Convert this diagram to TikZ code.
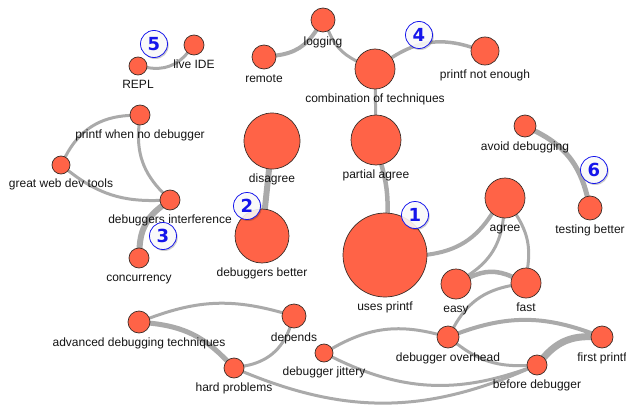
\documentclass[tikz,border=0pt]{standalone}
\usepackage{fontspec}
\setmainfont{Liberation Sans}
\newfontfamily\badgefont{DejaVu Sans}
\usetikzlibrary{shadows}
\pgfdeclarelayer{edges}
\pgfsetlayers{edges,main}
\definecolor{nodered}{RGB}{255,99,71}
\definecolor{nodeborder}{RGB}{60,45,40}
\definecolor{edgegray}{RGB}{170,170,170}
\definecolor{badgeblue}{RGB}{20,20,235}
\definecolor{txt}{RGB}{20,20,20}
\tikzset{
  pt/.style={circle, draw=nodeborder, line width=0.7pt, fill=nodered, inner sep=0pt, minimum size=#1*2pt},
  lbl/.style={font=\fontsize{12}{14}\selectfont, text=txt, inner sep=0pt, text height=8.8pt, text depth=2.5pt, label distance=4.5pt},
  con/.style={draw=edgegray, line width=#1pt, line cap=round},
  badge/.style={circle, draw=badgeblue, line width=0.8pt, fill=white, fill opacity=0.88, text opacity=1, inner sep=0pt, minimum size=27pt, text=badgeblue, font=\badgefont\bfseries\fontsize{18}{18}\selectfont, drop shadow={shadow xshift=1.2pt, shadow yshift=-1.5pt, fill=black, opacity=0.2}},
}
\begin{document}
\begin{tikzpicture}[x=1pt, y=-1pt]
\useasboundingbox (0,0) rectangle (626,404);
% nodes
\node[pt=9, label={[lbl]below:REPL}] (repl) at (138,66) {};
\node[pt=10, label={[lbl]below:live IDE}] (live) at (194,45) {};
\node[pt=12, label={[lbl]below:remote}] (remote) at (264,57) {};
\node[pt=12, label={[lbl]below:logging}] (logging) at (323,20) {};
\node[pt=20, label={[lbl]below:combination of techniques}] (comb) at (375,69) {};
\node[pt=14, label={[lbl]below:printf not enough}] (pne) at (485,51) {};
\node[pt=25, label={[lbl]below:partial agree}] (partial) at (376,140) {};
\node[pt=28, label={[lbl]below:disagree}] (disagree) at (272,141) {};
\node[pt=10, label={[lbl]below:printf when no debugger}] (pwnd) at (140,115) {};
\node[pt=9, label={[lbl]below:great web dev tools}] (gwdt) at (61,165) {};
\node[pt=10, label={[lbl]below:debuggers interference}] (di) at (170,200) {};
\node[pt=10, label={[lbl]below:concurrency}] (conc) at (139,258) {};
\node[pt=27, label={[lbl]below:debuggers better}] (better) at (262,236) {};
\node[pt=42, label={[lbl]below:uses printf}] (uses) at (385,255) {};
\node[pt=20, label={[lbl]below:agree}] (agree) at (505,198) {};
\node[pt=15, label={[lbl]below:easy}] (easy) at (456,284) {};
\node[pt=15, label={[lbl]below:fast}] (fast) at (526,283) {};
\node[pt=11, label={[lbl]below:avoid debugging}] (avoid) at (525,126) {};
\node[pt=12, label={[lbl]below:testing better}] (testing) at (590,208) {};
\node[pt=11, label={[lbl]below:advanced debugging techniques}] (adv) at (139,322) {};
\node[pt=12, label={[lbl]below:depends}] (depends) at (294,316) {};
\node[pt=10, label={[lbl]below:hard problems}] (hard) at (234,368) {};
\node[pt=9, label={[lbl]below:debugger jittery}] (jitter) at (324,353) {};
\node[pt=11, label={[lbl]below:debugger overhead}] (overhead) at (448,337) {};
\node[pt=10, label={[lbl]below:before debugger}] (before) at (537,365) {};
\node[pt=11, label={[lbl]below:first printf}] (first) at (602,337) {};
% connectors
\begin{pgfonlayer}{edges}
\draw[con=3] (repl) to[bend right=30] (live);
\draw[con=4] (remote) to[bend right=25] (logging);
\draw[con=3] (logging) to[bend right=20] (comb);
\draw[con=3.5] (comb) to[bend left=25] (pne);
\draw[con=3] (comb) -- (partial);
\draw[con=4.5] (partial) to[bend left=8] (uses);
\draw[con=4] (uses) to[bend right=25] (agree);
\draw[con=3] (agree) to[bend left=25] (easy);
\draw[con=3] (agree) to[bend left=20] (fast);
\draw[con=4.5] (easy) to[bend left=25] (fast);
\draw[con=3] (fast) to[bend right=25] (overhead);
\draw[con=6] (disagree) -- (better);
\draw[con=3] (pwnd) to[bend right=30] (gwdt);
\draw[con=3] (pwnd) to[bend right=25] (di);
\draw[con=3] (gwdt) to[bend right=20] (di);
\draw[con=6] (di) to[bend right=25] (conc);
\draw[con=5] (avoid) to[bend left=25] (testing);
\draw[con=3] (adv) to[bend left=18] (depends);
\draw[con=5] (adv) to[bend left=20] (hard);
\draw[con=3] (depends) to[bend left=30] (hard);
\draw[con=3] (hard) to[bend right=23] (before);
\draw[con=3] (jitter) to[bend right=23] (before);
\draw[con=3] (jitter) to[bend left=22] (overhead);
\draw[con=3] (overhead) to[bend right=20] (before);
\draw[con=4] (overhead) to[bend left=20] (first);
\draw[con=7] (before) to[bend left=25] (first);
\end{pgfonlayer}
% badges
\node[badge] (b1) at (415,215) {1};
\node[badge] (b2) at (247,206) {2};
\node[badge] (b3) at (163,236) {3};
\node[badge] (b4) at (419,35) {4};
\node[badge] (b5) at (154,44) {5};
\node[badge] (b6) at (594,170) {6};
\end{tikzpicture}
\end{document}
